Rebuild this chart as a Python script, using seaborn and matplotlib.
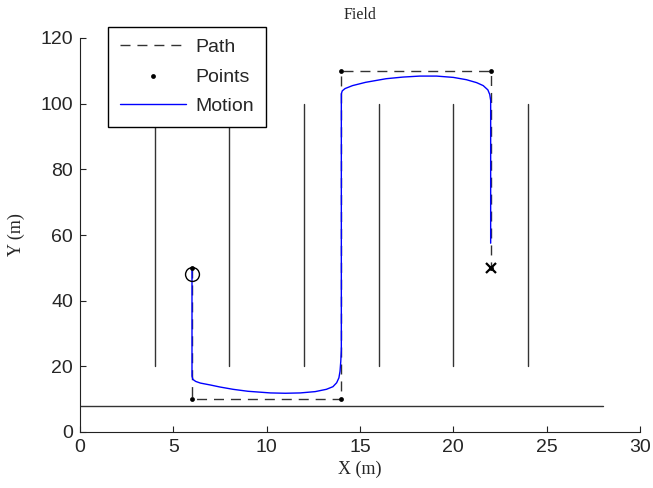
import matplotlib
matplotlib.use("Agg")
import matplotlib.pyplot as plt
import seaborn as sns
import pandas as pd

# ---- data ----
row_x = [4, 8, 12, 16, 20, 24]
row_y0 = [20, 20, 20, 20, 20, 20]
row_y1 = [100, 100, 100, 100, 100, 100]
headland_x = [0, 28]
headland_y = [8, 8]

path_x = [6, 6, 14, 14, 22, 22]
path_y = [50, 10, 10, 110, 110, 50]

start_x, start_y = [6], [48]
end_x, end_y = [22], [50]

motion_x = [6, 6, 6.05, 6.2, 6.45, 7.0, 7.5, 8.2, 9.0, 10.2, 11.0, 11.8, 12.6,
            13.2, 13.55, 13.75, 13.87, 13.93, 13.97, 14.0, 14.0, 14.05, 14.2,
            14.6, 15.3, 16.4, 17.3, 18.2, 19.1, 20.0, 20.7, 21.25, 21.6, 21.85,
            21.95, 22.0, 22.0]
motion_y = [49.5, 17, 16.0, 15.4, 14.9, 14.3, 13.7, 13.0, 12.4, 11.9, 11.8, 11.9,
            12.3, 13.0, 13.8, 15.0, 16.5, 18.5, 21.5, 25, 103, 103.9, 104.6,
            105.5, 106.5, 107.6, 108.1, 108.4, 108.4, 108.0, 107.3, 106.4, 105.5,
            104.2, 102.8, 101, 57.5]

x_ticks = [0, 5, 10, 15, 20, 25, 30]
y_ticks = [0, 20, 40, 60, 80, 100, 120]

# ---- style ----
sns.set_style("ticks")
plt.rcParams["font.family"] = ["Liberation Sans", "DejaVu Sans"]
plt.rcParams["xtick.direction"] = "in"
plt.rcParams["ytick.direction"] = "in"

fig = plt.figure(figsize=(6.53, 4.88), dpi=100)
ax = fig.add_axes([80 / 653, 1 - 432 / 488, 560 / 653, 394 / 488])

# field rows
for x, y0, y1 in zip(row_x, row_y0, row_y1):
    ax.plot([x, x], [y0, y1], color="#333333", lw=1.0, zorder=1)
ax.plot(headland_x, headland_y, color="#333333", lw=1.0, zorder=1)

# path
df_path = pd.DataFrame({"x": path_x, "y": path_y})
sns.lineplot(data=df_path, x="x", y="y", sort=False, estimator=None, ax=ax,
             color="#333333", lw=1.0, zorder=2)
ax.lines[-1].set_dashes((7.2, 5))
ax.lines[-1].set_label("Path")
sns.scatterplot(data=df_path, x="x", y="y", ax=ax, color="black", s=12,
                edgecolor="black", linewidth=0, zorder=4, label="Points")

# motion
df_mot = pd.DataFrame({"x": motion_x, "y": motion_y})
sns.lineplot(data=df_mot, x="x", y="y", sort=False, estimator=None, ax=ax,
             color="#0000ff", lw=1.0, zorder=3, label="Motion")

# start / end
ax.plot(start_x, start_y, marker="o", ms=10, mfc="none", mec="black", mew=1.0,
        ls="none", zorder=5)
ax.plot(end_x, end_y, marker="x", ms=7, mec="black", mew=1.6, ls="none", zorder=5)

ax.set_xlim(0, 30)
ax.set_ylim(0, 120)
ax.set_xticks(x_ticks)
ax.set_yticks(y_ticks)
ax.tick_params(labelsize=14, length=4, width=0.8, color="#222222", pad=5,
               top=False, right=False)
ax.tick_params(axis="y", pad=5)
for s in ["top", "right"]:
    ax.spines[s].set_visible(False)
for s in ["left", "bottom"]:
    ax.spines[s].set_linewidth(0.8)
    ax.spines[s].set_color("#222222")

serif = ["Liberation Serif", "DejaVu Serif"]
ax.set_xlabel("X (m)", family=serif, fontsize=13)
ax.set_ylabel("Y (m)", family=serif, fontsize=13)
ax.xaxis.set_label_coords(0.5, -0.072)
ax.yaxis.set_label_coords(-0.098, 0.5)
ax.set_title("Field", family=serif, fontsize=11.5, pad=14)

handles, labels = ax.get_legend_handles_labels()
order = {"Path": 0, "Points": 1, "Motion": 2}
pairs = sorted([(h, l) for h, l in zip(handles, labels) if l in order],
               key=lambda p: order[p[1]])
leg = ax.legend([p[0] for p in pairs], [p[1] for p in pairs],
                loc="upper left", bbox_to_anchor=(108 / 653, 1 - 27 / 488),
                bbox_transform=fig.transFigure, borderaxespad=0,
                fontsize=14, handlelength=3.4, fancybox=False, framealpha=1,
                edgecolor="black", labelspacing=0.6, borderpad=0.6,
                handletextpad=0.5)
leg.get_frame().set_linewidth(1.0)

fig.savefig("out.png", dpi=100)
